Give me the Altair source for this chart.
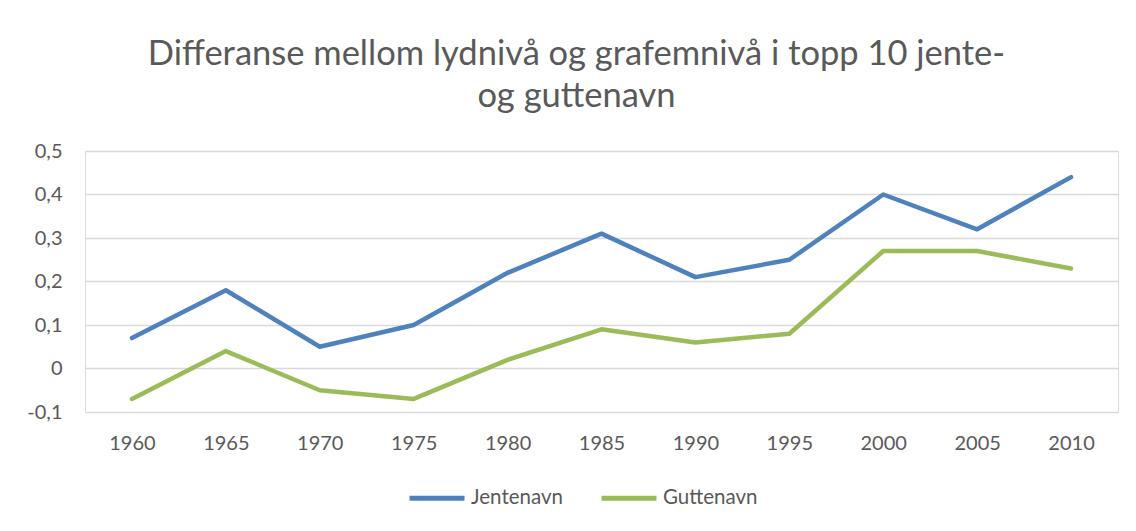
import altair as alt
import pandas as pd

years = ["1960", "1965", "1970", "1975", "1980", "1985", "1990", "1995", "2000", "2005", "2010"]
jentenavn = [0.07, 0.18, 0.05, 0.10, 0.22, 0.31, 0.21, 0.25, 0.40, 0.32, 0.44]
guttenavn = [-0.07, 0.04, -0.05, -0.07, 0.02, 0.09, 0.06, 0.08, 0.27, 0.27, 0.23]
series = ["Jentenavn", "Guttenavn"]
colors = ["#4F81BD", "#9BBB59"]
y_ticks = [-0.1, 0, 0.1, 0.2, 0.3, 0.4, 0.5]

rows = []
for name, vals in zip(series, [jentenavn, guttenavn]):
    for yr, v in zip(years, vals):
        rows.append({"År": yr, "Verdi": v, "Serie": name})
df = pd.DataFrame(rows)

FONT = "Lato"
GREY = "#595959"

chart = alt.Chart(df).mark_line(strokeWidth=4.5, strokeCap="round", strokeJoin="round").encode(
    x=alt.X("År:N", sort=years, scale=alt.Scale(paddingInner=0, paddingOuter=0.5),
            axis=alt.Axis(title=None, labelAngle=0, ticks=False, domain=False, grid=False,
                          labelPadding=21, labelFontSize=20, labelColor=GREY, labelFont=FONT)),
    y=alt.Y("Verdi:Q", scale=alt.Scale(domain=[-0.1, 0.5], nice=False, zero=False),
            axis=alt.Axis(title=None, values=y_ticks, ticks=False, domain=False,
                          gridColor="#D9D9D9", gridWidth=1.3,
                          labelExpr="datum.value == 0 ? '0' : replace(replace(format(datum.value, '.1f'), '.', ','), '\u2212', '-')",
                          labelPadding=23, labelFontSize=20, labelColor=GREY, labelFont=FONT)),
    color=alt.Color("Serie:N", sort=series, scale=alt.Scale(domain=series, range=colors),
                    legend=alt.Legend(title=None, orient="none", direction="horizontal",
                                      legendX=322, legendY=317,
                                      symbolType="stroke", symbolSize=3025, symbolStrokeWidth=5,
                                      labelFontSize=20.5, labelColor=GREY, labelFont=FONT,
                                      labelOffset=4, columnPadding=28)),
).properties(
    width=1033,
    height=261,
    title=alt.Title(["Differanse mellom lydnivå og grafemnivå i topp 10 jente-", "og guttenavn"],
                    fontSize=34.5, font=FONT, color=GREY, fontWeight="normal",
                    anchor="middle", dx=-25, offset=27, lineHeight=42),
    autosize=alt.AutoSizeParams(type="none"),
    padding={"left": 77, "top": 143, "right": 10, "bottom": 110},
).configure_view(stroke=None).configure(background="white")

chart.save("out.html", embed_options={"renderer": "svg", "actions": False})
